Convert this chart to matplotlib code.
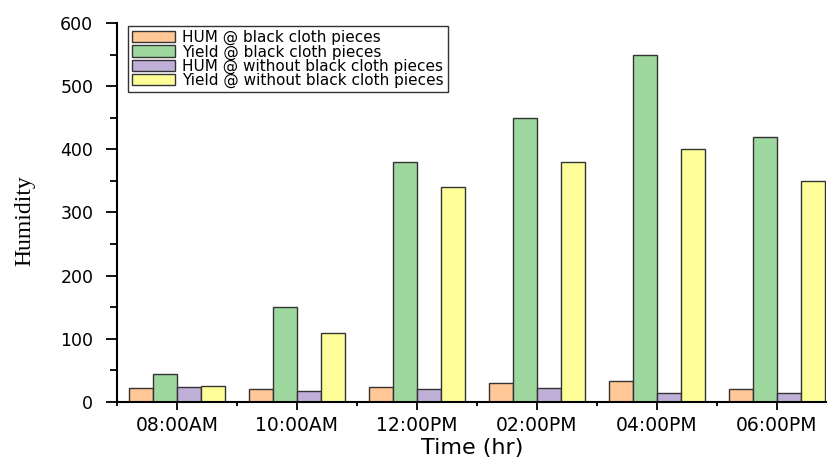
import matplotlib
matplotlib.use("Agg")
import matplotlib.pyplot as plt
import numpy as np
from matplotlib.ticker import MultipleLocator, FixedLocator

categories = ["08:00AM", "10:00AM", "12:00PM", "02:00PM", "04:00PM", "06:00PM"]
hum_black = [22, 20, 24, 30, 33, 21]
yield_black = [44, 150, 380, 450, 550, 420]
hum_without = [24, 18, 20, 22, 14, 15]
yield_without = [25, 110, 340, 380, 400, 350]

series = [
    ("HUM @ black cloth pieces", hum_black, "#FFC896"),
    ("Yield @ black cloth pieces", yield_black, "#9ED89E"),
    ("HUM @ without black cloth pieces", hum_without, "#C0B0D8"),
    ("Yield @ without black cloth pieces", yield_without, "#FFFF99"),
]

fig = plt.figure(figsize=(8.29, 4.62), dpi=100)
ax = fig.add_axes([0.1411, 0.1299, 0.8553, 0.8203])

x = np.arange(len(categories))
w = 0.2
for i, (lab, vals, col) in enumerate(series):
    ax.bar(x + (i - 1.5) * w, vals, width=w, color=col, edgecolor="#333333",
           linewidth=1.0, label=lab)

ax.set_xlim(-0.5, 5.41)
ax.set_ylim(0, 600)
ax.yaxis.set_major_locator(MultipleLocator(100))
ax.yaxis.set_minor_locator(MultipleLocator(50))
ax.set_xticks(x)
ax.set_xticklabels(categories)
ax.xaxis.set_minor_locator(FixedLocator(np.arange(-0.5, 5.6, 1.0)))
for lbl in ax.get_xticklabels():
    lbl.set_fontfamily("DejaVu Sans")
    lbl.set_fontsize(13.5)
for lbl in ax.get_yticklabels():
    lbl.set_fontfamily("DejaVu Sans")
    lbl.set_fontsize(12.5)

ax.spines["top"].set_visible(False)
ax.spines["right"].set_visible(False)
ax.spines["left"].set_linewidth(1.5)
ax.spines["bottom"].set_linewidth(1.5)
ax.tick_params(axis="y", which="major", direction="out", length=8, width=1.3, pad=9)
ax.tick_params(axis="y", which="minor", direction="out", length=5, width=1.3)
ax.tick_params(axis="x", which="major", direction="out", length=6, width=1.3, pad=4)
ax.tick_params(axis="x", which="minor", direction="out", length=3, width=1.3)

ax.set_ylabel("Humidity", fontfamily="Liberation Serif", fontsize=17)
ax.yaxis.set_label_coords(-0.115, 0.478)
ax.set_xlabel("Time (hr)", fontfamily="DejaVu Sans", fontsize=16)
ax.xaxis.set_label_coords(0.5007, -0.095)

leg = ax.legend(loc="upper left", bbox_to_anchor=(0.0155, 0.992), frameon=True, fancybox=False,
                edgecolor="black", prop={"family": "DejaVu Sans", "size": 11},
                handlelength=2.8, handleheight=0.75, borderpad=0.25, labelspacing=-0.05,
                handletextpad=0.5, borderaxespad=0.0)
leg.get_frame().set_linewidth(1.0)
for p in leg.get_patches():
    p.set_edgecolor("#333333")

fig.savefig("out.png", dpi=100)
